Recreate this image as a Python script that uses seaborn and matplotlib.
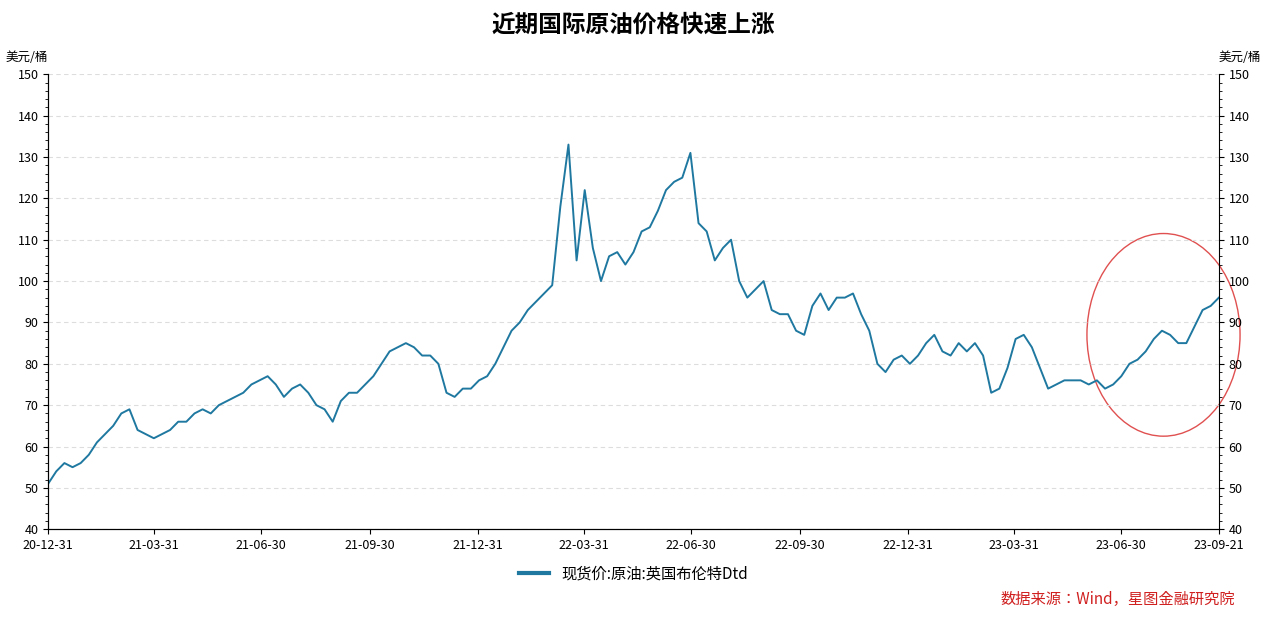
import matplotlib
matplotlib.use("Agg")
import matplotlib.pyplot as plt
from matplotlib.patches import Ellipse
import matplotlib.dates as mdates
import numpy as np
import pandas as pd
import seaborn as sns

plt.rcParams["font.family"] = "sans-serif"
plt.rcParams["font.sans-serif"] = ["Noto Sans CJK SC", "Noto Sans CJK JP", "Noto Sans CJK TC",
                                   "Noto Sans CJK KR", "DejaVu Sans"]
plt.rcParams["axes.unicode_minus"] = False

start_date = "2020-12-31"
end_date = "2023-09-21"
# weekly readings of Brent Dtd spot price, USD/bbl
prices = [
    51, 54, 56, 55, 56, 58, 61, 63, 65,
    68, 69, 64, 63, 62, 63, 64, 66, 66,
    68, 69, 68, 70, 71, 72, 73, 75, 76,
    77, 75, 72, 74, 75, 73, 70, 69, 66, 71,
    73, 73, 75, 77, 80, 83, 84, 85,
    84, 82, 82, 80, 73, 72, 74, 74, 76, 77,
    80, 84, 88, 90, 93, 95, 97, 99,
    118, 133, 105, 122, 108, 100, 106, 107, 104,
    107, 112, 113, 117, 122, 124, 125, 131, 114,
    112, 105, 108, 110, 100, 96, 98, 100,
    93, 92, 92, 88, 87, 94, 97, 93, 96,
    96, 97, 92, 88, 80, 78, 81, 82,
    80, 82, 85, 87, 83, 82, 85, 83,
    85, 82, 73, 74, 79, 86, 87, 84, 79,
    74, 75, 76, 76, 76, 75, 76, 74, 75,
    77, 80, 81, 83, 86, 88, 87, 85, 85,
    89, 93, 94, 96,
]
tick_dates = ["2020-12-31", "2021-03-31", "2021-06-30", "2021-09-30",
              "2021-12-31", "2022-03-31", "2022-06-30", "2022-09-30",
              "2022-12-31", "2023-03-31", "2023-06-30", "2023-09-21"]

t0, t1 = pd.Timestamp(start_date), pd.Timestamp(end_date)
dates = pd.to_datetime(np.linspace(t0.value, t1.value, len(prices)))
df = pd.DataFrame({"date": dates, "price": prices})

fig, ax = plt.subplots(figsize=(12.67, 6.19), dpi=100)
color = "#1f78a0"
sns.lineplot(data=df, x="date", y="price", ax=ax, color=color, linewidth=1.4,
             label="现货价:原油:英国布伦特Dtd")

ax.set_xlim(t0, t1)
ax.set_ylim(40, 150)
ax.set_yticks(range(40, 151, 10))
ax.set_yticks(range(40, 151, 2), minor=True)
ticks = pd.to_datetime(tick_dates)
ax.set_xticks(ticks)
ax.set_xticklabels([d.strftime("%y-%m-%d") for d in ticks], fontsize=9)
ax.tick_params(axis="y", labelsize=9)
ax.grid(axis="y", linestyle=(0, (4, 3)), color="#dddddd", linewidth=0.8)
ax.set_xlabel("")
ax.set_ylabel("")
for s in ["top", "right"]:
    ax.spines[s].set_visible(False)

ax2 = ax.twinx()
ax2.set_ylim(40, 150)
ax2.set_yticks(range(40, 151, 10))
ax2.set_yticks(range(40, 151, 2), minor=True)
ax2.tick_params(axis="y", labelsize=9)
ax2.spines["top"].set_visible(False)

ax.text(0.0, 1.03, "美元/桶", transform=ax.transAxes, ha="right", fontsize=9)
ax2.text(1.0, 1.03, "美元/桶", transform=ax.transAxes, ha="left", fontsize=9)

ax.add_patch(Ellipse((mdates.date2num(pd.Timestamp("2023-08-05")), 87),
                     width=130, height=49, fill=False, edgecolor="#e05050",
                     linewidth=1, clip_on=False))

ax.legend(loc="upper center", bbox_to_anchor=(0.5, -0.05), frameon=False, fontsize=11,
          handlelength=2)
for line in ax.get_legend().get_lines():
    line.set_linewidth(3)

fig.suptitle("近期国际原油价格快速上涨", fontsize=17, fontweight="bold", y=0.98)
fig.text(0.975, 0.025, "数据来源：Wind，星图金融研究院", color="#d02020", fontsize=11,
         style="italic", ha="right")
fig.subplots_adjust(left=0.038, right=0.962, top=0.88, bottom=0.145)
fig.savefig("out.png", dpi=100)
